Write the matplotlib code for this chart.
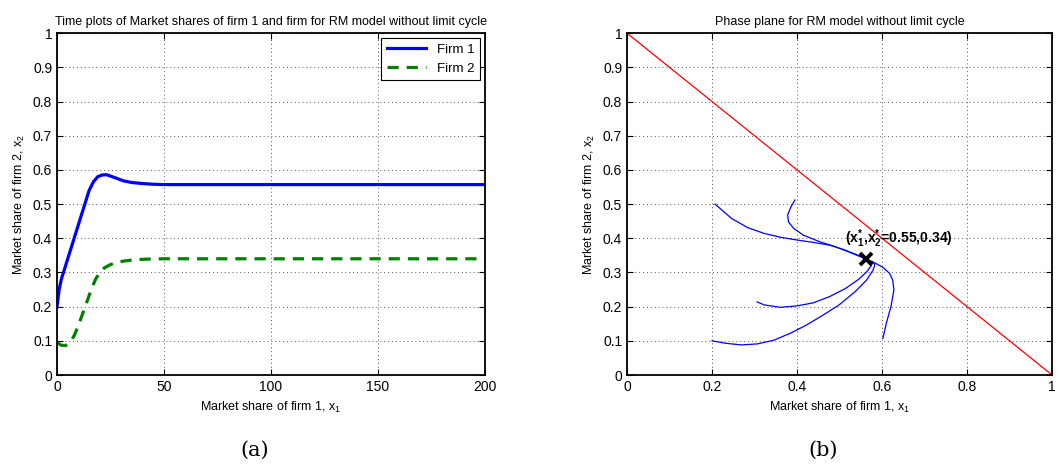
import matplotlib.pyplot as plt
import numpy as np

plt.rcParams['font.family'] = ['Liberation Sans', 'DejaVu Sans']
plt.rcParams['mathtext.fontset'] = 'custom'
plt.rcParams['mathtext.rm'] = 'Liberation Sans'
plt.rcParams['mathtext.it'] = 'Liberation Sans'
plt.rcParams['mathtext.bf'] = 'Liberation Sans:bold'

# time plot data
t1 = [0, 1, 2, 3, 5, 7, 9, 11, 13, 15, 17, 19, 21, 23, 25, 28, 31, 35, 40, 45, 50, 200]
firm1 = [0.20, 0.25, 0.28, 0.30, 0.34, 0.38, 0.42, 0.46, 0.50, 0.54, 0.565, 0.58, 0.585,
         0.586, 0.582, 0.575, 0.568, 0.563, 0.560, 0.558, 0.557, 0.557]
t2 = [0, 2, 4, 6, 8, 10, 12, 14, 16, 18, 20, 22, 25, 28, 32, 36, 42, 50, 200]
firm2 = [0.095, 0.087, 0.086, 0.095, 0.115, 0.145, 0.18, 0.215, 0.25, 0.28, 0.30, 0.313,
         0.323, 0.33, 0.334, 0.337, 0.339, 0.34, 0.34]

# phase plane trajectories (x1, x2)
trajA_x = [0.207, 0.246, 0.284, 0.323, 0.361, 0.399, 0.438, 0.476, 0.514, 0.552, 0.568]
trajA_y = [0.500, 0.458, 0.431, 0.414, 0.403, 0.395, 0.388, 0.380, 0.365, 0.346, 0.336]
trajB_x = [0.395, 0.385, 0.378, 0.380, 0.392, 0.415, 0.453, 0.491, 0.530, 0.568]
trajB_y = [0.512, 0.490, 0.468, 0.448, 0.429, 0.409, 0.390, 0.375, 0.356, 0.336]
trajC_x = [0.306, 0.323, 0.361, 0.399, 0.438, 0.476, 0.514, 0.545, 0.564, 0.574, 0.575, 0.568]
trajC_y = [0.214, 0.205, 0.198, 0.202, 0.211, 0.229, 0.253, 0.280, 0.302, 0.319, 0.327, 0.334]
trajD_x = [0.200, 0.231, 0.269, 0.307, 0.346, 0.384, 0.422, 0.461, 0.499, 0.537, 0.564,
           0.579, 0.583, 0.579, 0.568]
trajD_y = [0.100, 0.093, 0.088, 0.091, 0.102, 0.122, 0.146, 0.175, 0.205, 0.244, 0.278,
           0.307, 0.322, 0.331, 0.336]
trajE_x = [0.602, 0.610, 0.621, 0.628, 0.625, 0.618, 0.602, 0.583, 0.568]
trajE_y = [0.107, 0.151, 0.200, 0.249, 0.278, 0.297, 0.315, 0.328, 0.334]
trajs = [(trajA_x, trajA_y), (trajB_x, trajB_y), (trajC_x, trajC_y),
         (trajD_x, trajD_y), (trajE_x, trajE_y)]
simplex_x = [0, 1]
simplex_y = [1, 0]
eq_x, eq_y = 0.562, 0.338

fig = plt.figure(figsize=(10.6, 4.67), dpi=100)
ax1 = fig.add_axes([0.0538, 0.197, 0.4038, 0.732])
ax2 = fig.add_axes([0.5915, 0.197, 0.401, 0.732])


def style(ax):
    ax.set_ylim(0, 1)
    ax.set_yticks(np.arange(0, 1.01, 0.1))
    ax.set_yticklabels(['0'] + ['%.1f' % v for v in np.arange(0.1, 0.95, 0.1)] + ['1'])
    ax.grid(True, linestyle=(0, (1, 3)), color='#555555', linewidth=0.7)
    ax.tick_params(direction='in', top=True, right=True, labelsize=10, length=4)
    for s in ax.spines.values():
        s.set_linewidth(1.3)
    ax.set_xlabel('Market share of firm 1, x$_1$', fontsize=9)
    ax.set_ylabel('Market share of firm 2, x$_2$', fontsize=9)


# (a) time plots
ax1.plot(t1, firm1, color='blue', lw=2.3, label='Firm 1')
ax1.plot(t2, firm2, color=(0, 0.5, 0), lw=2.3, ls=(0, (3.5, 2.5)), label='Firm 2')
ax1.set_xlim(0, 200)
ax1.set_xticks([0, 50, 100, 150, 200])
style(ax1)
ax1.set_title('Time plots of Market shares of firm 1 and firm for RM model without limit cycle',
              fontsize=9)
leg = ax1.legend(loc='upper right', fontsize=9.5, fancybox=False, framealpha=1,
                 borderaxespad=0.4, handlelength=3)
leg.get_frame().set_edgecolor('black')
leg.get_frame().set_linewidth(0.8)

# (b) phase plane
ax2.plot(simplex_x, simplex_y, color='red', lw=0.9)
for tx, ty in trajs:
    ax2.plot(tx, ty, color='blue', lw=0.9)
ax2.plot(eq_x, eq_y, marker='x', color='black', ms=8, mew=2.8)
ax2.text(0.512, 0.385, r'($\mathbf{x}_\mathbf{1}^\mathbf{*}$,$\mathbf{x}_\mathbf{2}^\mathbf{*}$=0.55,0.34)',
         fontsize=10, fontweight='bold')
ax2.set_xlim(0, 1)
ax2.set_xticks([0, 0.2, 0.4, 0.6, 0.8, 1])
ax2.set_xticklabels(['0', '0.2', '0.4', '0.6', '0.8', '1'])
style(ax2)
ax2.set_title('Phase plane for RM model without limit cycle', fontsize=9)

fig.text(255 / 1060, 1 - 450 / 467, '(a)', family='DejaVu Serif', fontsize=15,
         ha='center', va='center')
fig.text(823 / 1060, 1 - 450 / 467, '(b)', family='DejaVu Serif', fontsize=15,
         ha='center', va='center')

fig.savefig('out.png', dpi=100)
